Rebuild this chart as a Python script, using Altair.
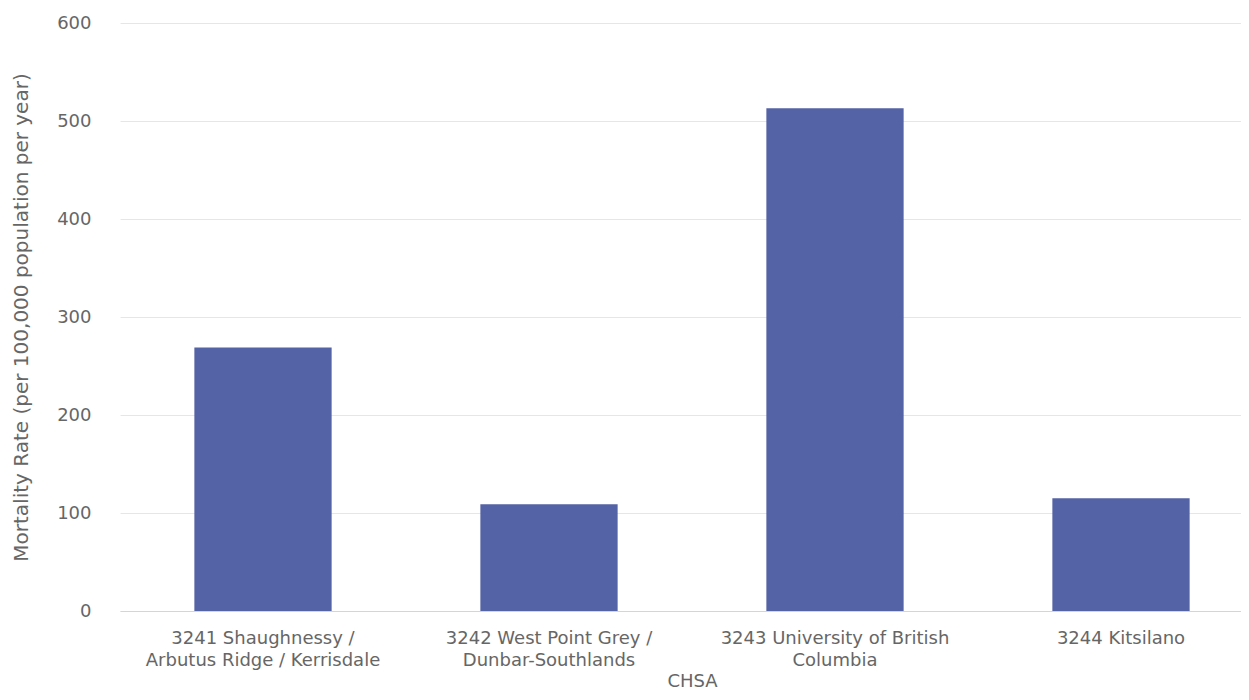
import altair as alt
import pandas as pd

categories = [
    "3241 Shaughnessy /\nArbutus Ridge / Kerrisdale",
    "3242 West Point Grey /\nDunbar-Southlands",
    "3243 University of British\nColumbia",
    "3244 Kitsilano",
]
mortality_rate = [269, 109, 513, 115]
y_ticks = [0, 100, 200, 300, 400, 500, 600]

df = pd.DataFrame({"CHSA": categories, "rate": mortality_rate})

FONT = "DejaVu Sans"
TXT = "#666666"

chart = (
    alt.Chart(df)
    .mark_bar(color="#5463a5")
    .encode(
        x=alt.X(
            "CHSA:N",
            sort=categories,
            title="CHSA",
            scale=alt.Scale(range=[0, 1144], paddingInner=0.52, paddingOuter=0.26),
            axis=alt.Axis(
                labelAngle=0,
                labelExpr="split(datum.label, '\\n')",
                labelFont=FONT,
                labelFontSize=18,
                labelColor=TXT,
                labelLineHeight=22,
                labelPadding=18,
                labelLimit=400,
                ticks=False,
                domainColor="#ccd6eb",
                domainWidth=1,
                grid=False,
                titleFont=FONT,
                titleFontSize=18,
                titleFontWeight="normal",
                titleColor=TXT,
                titlePadding=3,
            ),
        ),
        y=alt.Y(
            "rate:Q",
            title="Mortality Rate (per 100,000 population per year)",
            scale=alt.Scale(domain=[0, 600], nice=False),
            axis=alt.Axis(
                values=y_ticks,
                labelFont=FONT,
                labelFontSize=18,
                labelColor=TXT,
                labelPadding=29,
                ticks=False,
                domain=False,
                gridColor="#e6e6e6",
                gridWidth=1,
                titleFont=FONT,
                titleFontSize=20,
                titleFontWeight="normal",
                titleColor=TXT,
                titlePadding=25,
            ),
        ),
    )
    .properties(
        width=1121,
        height=588,
        autosize=alt.AutoSizeParams(type="none"),
        padding={"left": 112, "top": 15, "right": 0, "bottom": 81},
    )
    .configure_view(stroke=None)
)

chart.save("out.html", embed_options={"renderer": "svg", "actions": False})
